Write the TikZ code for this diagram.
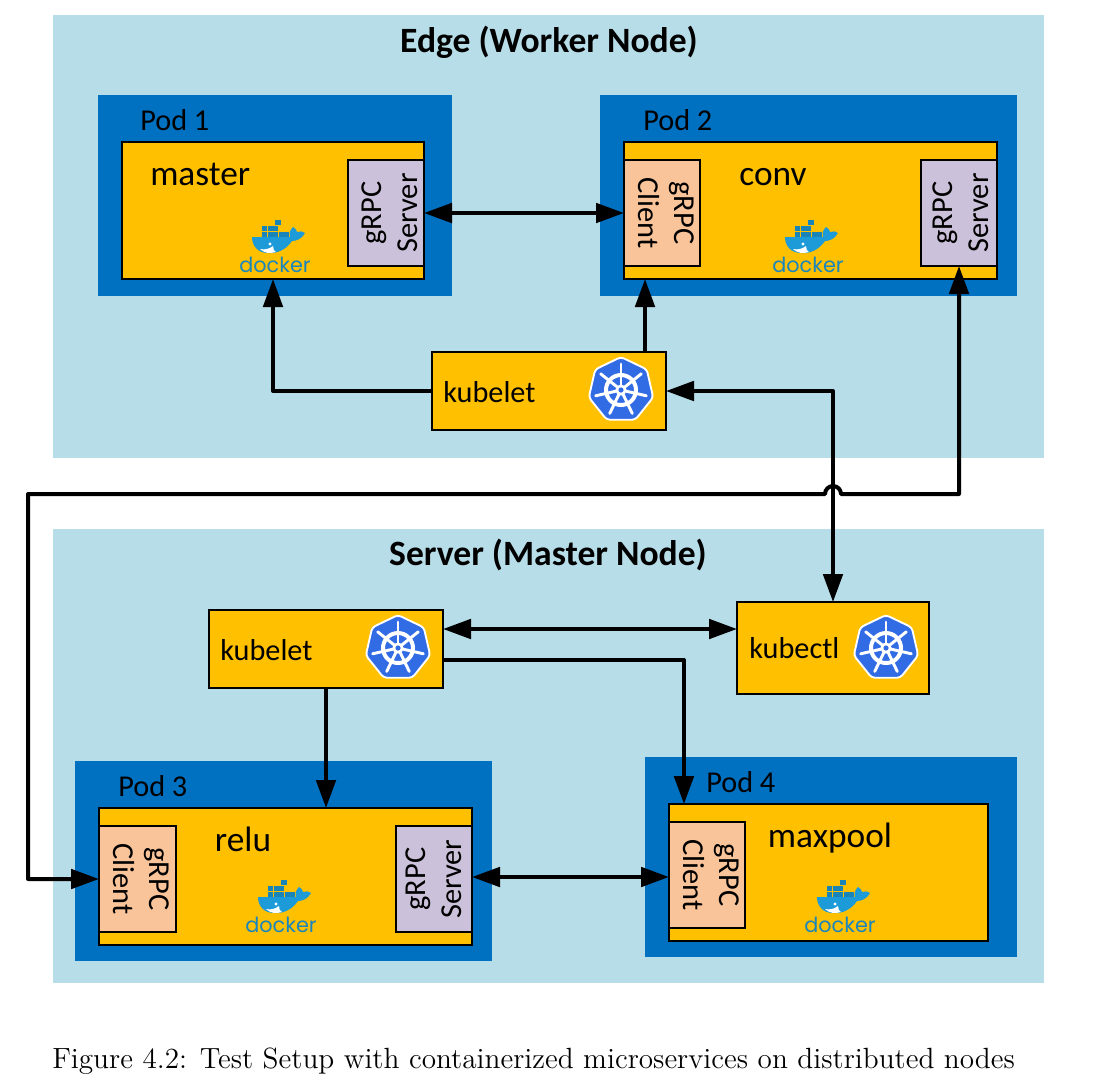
\documentclass[tikz,border=0pt]{standalone}
\usepackage{fontspec}
\newfontfamily\calfont{Carlito}
\newfontfamily\dockerfont{Poppins}
\newfontfamily\capfont{lmroman12-regular}[Extension=.otf]
\usetikzlibrary{arrows.meta}
\definecolor{zone}{HTML}{B7DDE8}
\definecolor{podblue}{HTML}{0070C0}
\definecolor{amber}{HTML}{FFC000}
\definecolor{lilac}{HTML}{CCC1DA}
\definecolor{peach}{HTML}{F9C49A}
\definecolor{kblue}{HTML}{326CE5}
\definecolor{dblue}{HTML}{1D9BD8}
\definecolor{dtext}{HTML}{1A86BC}
\tikzset{
  px/.style n args={2}{minimum width=#1*0.75pt,minimum height=#2*0.75pt,inner sep=0pt,outer sep=0pt,anchor=north west},
  zonebox/.style={fill=zone,draw=none},
  podbox/.style={fill=podblue,draw=none},
  appbox/.style={fill=amber,draw=black,line width=1.4pt},
  srvbox/.style={fill=lilac,draw=black,line width=1.2pt},
  clibox/.style={fill=peach,draw=black,line width=1.2pt},
  rottext/.style={font=\calfont\fontsize{22.8pt}{27pt}\selectfont,align=center},
  lab/.style={font=\calfont\fontsize{22.7pt}{24pt}\selectfont,anchor=west,inner sep=0pt},
  applab/.style={font=\calfont\fontsize{26.5pt}{28pt}\selectfont,inner sep=0pt,anchor=base},
  ttl/.style={font=\calfont\bfseries\fontsize{26.7pt}{28pt}\selectfont,inner sep=0pt},
  conn/.style={line width=3pt,line join=round},
  both/.style={conn,{Triangle[length=21pt,width=14.5pt]}-{Triangle[length=21pt,width=14.5pt]}},
  one/.style={conn,-{Triangle[length=21pt,width=14.5pt]}},
  dockericon/.pic={
    \fill[dblue] (-23,-1) -- (15,-1) .. controls (14,-5) and (15,-8) .. (18,-11)
      .. controls (21,-9) and (22,-7) .. (22,-6) .. controls (25,-7) and (28,-7) .. (30,-5)
      .. controls (27,1) and (21,3) .. (17,3) .. controls (11,12) and (1,16) .. (-7,15)
      .. controls (-17,15) and (-23,8) .. (-23,-1) -- cycle;
    \fill[white] (-15,11) .. controls (-10,12) and (-6,11) .. (-2,8) .. controls (-2,11) and (-1,13) .. (1,14)
      .. controls (-5,16) and (-11,15) .. (-15,11) -- cycle;
    \fill[white] (-5,6) circle[radius=1.6];
    \foreach \c in {0,1,2,3,4} {\fill[dblue!85!black] (-13+\c*5.6,-6.2) rectangle ++(5,4.8);}
    \foreach \c in {0,1,2} {\fill[dblue!85!black] (-13+\c*5.6,-12) rectangle ++(5,5.2);}
    \fill[dblue!85!black] (0.4,-18) rectangle ++(5.6,5.4);
    \node[text=dtext,font=\dockerfont\fontsize{15.6pt}{18pt}\selectfont,inner sep=0pt,anchor=base] at (0,34.5) {docker};
  },
  k8sicon/.pic={
    \fill[kblue,draw=white,line width=1.4pt,line join=round,rounded corners=2.5pt]
      (-90:33) -- (-38.57:33) -- (12.86:33) -- (64.29:33) -- (115.71:33) -- (167.14:33) -- (218.57:33) -- cycle;
    \draw[white,line width=3pt] (0,0) circle[radius=15];
    \foreach \a in {-90,-38.57,12.86,64.29,115.71,167.14,218.57} {
      \draw[white,line width=2.2pt,line cap=round] (\a:5) -- (\a:26);
    }
    \fill[white] (0,0) circle[radius=5.6];
    \fill[kblue] (0,0) circle[radius=2.6];
  }
}
\begin{document}
\begin{tikzpicture}[x=0.75pt,y=-0.75pt]
\useasboundingbox (0,0) rectangle (1100,1083);
% zones
\node[px={991}{443},zonebox] (edge) at (53,15) {};
\node[ttl] (edgettl) at (549,42) {Edge (Worker Node)};
\node[px={991}{454},zonebox] (server) at (53,529) {};
\node[ttl] (serverttl) at (548,555) {Server (Master Node)};
% pods
\node[px={354}{201},podbox] (pod1) at (98,95) {};
\node[lab] (pod1l) at (140,120) {Pod 1};
\node[px={417}{201},podbox] (pod2) at (600,95) {};
\node[lab] (pod2l) at (643,120) {Pod 2};
\node[px={417}{200},podbox] (pod3) at (75,761) {};
\node[lab] (pod3l) at (118,786) {Pod 3};
\node[px={372}{200},podbox] (pod4) at (645,757) {};
\node[lab] (pod4l) at (706,782) {Pod 4};
% containers
\node[px={302}{137},appbox] (master) at (122,142) {};
\node[applab,anchor=base west] (masterl) at (150,185) {master};
\node[px={76}{106},srvbox] (srvA) at (348,160) {};
\node[rottext,rotate=90] (srvAl) at ([xshift=3pt]srvA.center) {gRPC\\Server};
\node[px={373}{137},appbox] (conv) at (624,142) {};
\node[applab] (convl) at (773,185) {conv};
\node[px={76}{106},clibox] (cliB) at (624,160) {};
\node[rottext,rotate=-90] (cliBl) at ([xshift=3pt]cliB.center) {gRPC\\Client};
\node[px={76}{106},srvbox] (srvB) at (921,160) {};
\node[rottext,rotate=90] (srvBl) at ([xshift=1.5pt]srvB.center) {gRPC\\Server};
\node[px={373}{137},appbox] (relu) at (99,808) {};
\node[applab] (relul) at (243,851) {relu};
\node[px={77}{106},clibox] (cliC) at (99,826) {};
\node[rottext,rotate=-90] (cliCl) at ([xshift=3pt]cliC.center) {gRPC\\Client};
\node[px={76}{106},srvbox] (srvC) at (396,826) {};
\node[rottext,rotate=90] (srvCl) at (srvC.center) {gRPC\\Server};
\node[px={319}{137},appbox] (maxpool) at (669,804) {};
\node[applab] (maxpooll) at (830,847) {maxpool};
\node[px={76}{106},clibox] (cliD) at (669,822) {};
\node[rottext,rotate=-90] (cliDl) at ([xshift=3.5pt]cliD.center) {gRPC\\Client};
% agents
\node[px={234}{78},appbox] (kubeE) at (432,352) {};
\node[lab] (kubeEl) at (443,392) {kubelet};
\node[px={234}{78},appbox] (kubeS) at (209,610) {};
\node[lab] (kubeSl) at (220,650) {kubelet};
\node[px={192}{92},appbox] (kubectl) at (737,602) {};
\node[lab] (kubectll) at (749,648) {kubectl};
% icons
\pic at (275,238) {dockericon};
\pic at (808,238) {dockericon};
\pic at (281,898) {dockericon};
\pic at (840,898) {dockericon};
\pic at (621,390) {k8sicon};
\pic at (398,648) {k8sicon};
\pic at (886,648) {k8sicon};
% connectors
\draw[both] (srvA.east) -- (cliB.west);
\draw[one] (kubeE.west) -| (master.south);
\draw[one] ([xshift=72pt]kubeE.north) -- ([xshift=72pt]kubeE.north |- conv.south);
\draw[both] (kubeE.east) -| (kubectl.north);
\coordinate (busleft) at (28,494);
\coordinate (jumpR) at (841,494);
\draw[both] (srvB.south) |- (jumpR) arc[start angle=0,end angle=180,radius=6pt] -- (busleft) |- (cliC.west);
\draw[both] ([yshift=15pt]kubeS.east) -- ([yshift=15pt]kubeS.east -| kubectl.west);
\draw[one] ([yshift=-8.25pt]kubeS.east) -| ([xshift=-108.4pt]maxpool.north);
\draw[one] (kubeS.south) -- (kubeS.south |- relu.north);
\draw[both] ([yshift=1.5pt]srvC.east) -- ([yshift=1.5pt]srvC.east -| cliD.west);
% caption
\node[anchor=base west,inner sep=0pt,font=\capfont\fontsize{21.93pt}{26pt}\selectfont] (caption) at (52,1068) {Figure 4.2: Test Setup with containerized microservices on distributed nodes};
\end{tikzpicture}
\end{document}
